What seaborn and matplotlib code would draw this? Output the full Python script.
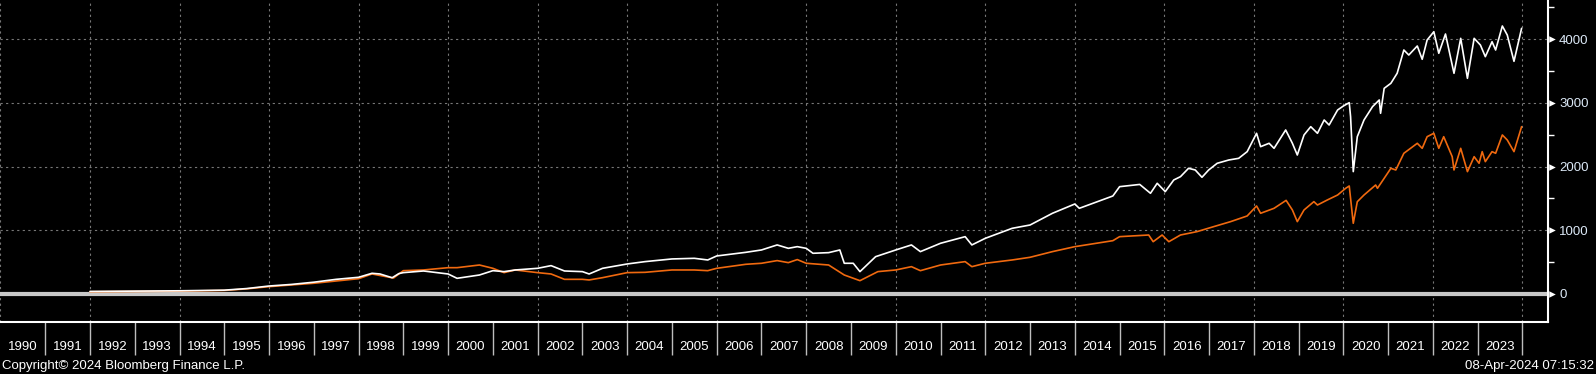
import pandas as pd
import seaborn as sns
import matplotlib.pyplot as plt
from matplotlib.transforms import blended_transform_factory

# values (decimal year, index level)
white_years = [1992.0, 1993.0, 1994.0, 1995.0, 1995.5, 1996.0, 1996.5, 1997.0, 1997.5, 1998.0,
               1998.3, 1998.48, 1998.75, 1998.9, 1999.0, 1999.45, 2000.0, 2000.2, 2000.7, 2001.0,
               2001.25, 2001.5, 2002.0, 2002.3, 2002.6, 2003.0, 2003.15, 2003.45, 2004.0, 2004.4,
               2005.0, 2005.5, 2005.8, 2006.0, 2006.65, 2007.0, 2007.35, 2007.6, 2007.8, 2008.0,
               2008.15, 2008.5, 2008.75, 2008.85, 2009.05, 2009.2, 2009.55, 2010.0, 2010.35, 2010.55,
               2011.0, 2011.55, 2011.7, 2012.0, 2012.6, 2013.0, 2013.5, 2014.0, 2014.1, 2014.85,
               2015.0, 2015.45, 2015.69, 2015.84, 2016.02, 2016.21, 2016.36, 2016.54, 2016.69, 2016.84,
               2016.99, 2017.18, 2017.44, 2017.66, 2017.85, 2018.06, 2018.15, 2018.34, 2018.45, 2018.71,
               2018.86, 2018.97, 2019.12, 2019.27, 2019.42, 2019.57, 2019.68, 2019.87, 2020.0, 2020.13,
               2020.16, 2020.22, 2020.31, 2020.46, 2020.65, 2020.8, 2020.83, 2020.91, 2021.06, 2021.2,
               2021.35, 2021.46, 2021.65, 2021.76, 2021.87, 2022.02, 2022.13, 2022.28, 2022.47, 2022.62,
               2022.77, 2022.92, 2023.06, 2023.17, 2023.32, 2023.4, 2023.55, 2023.66, 2023.81, 2023.98]
white_vals = [40, 45, 50, 60, 85, 125, 150, 185, 230, 262,
              325, 314, 255, 320, 335, 361, 314, 246, 298, 366,
              351, 377, 403, 445, 361, 351, 314, 403, 471, 508,
              550, 560, 534, 597, 654, 691, 770, 717, 743, 717,
              639, 649, 691, 482, 482, 351, 586, 691, 770, 665,
              796, 900, 770, 874, 1031, 1083, 1267, 1413, 1345, 1539,
              1685, 1720, 1581, 1738, 1607, 1790, 1842, 1973, 1947, 1832,
              1947, 2052, 2104, 2130, 2235, 2523, 2313, 2366, 2287, 2575,
              2366, 2182, 2497, 2627, 2523, 2732, 2653, 2889, 2952, 3004,
              2784, 1921, 2470, 2732, 2941, 3046, 2837, 3229, 3308, 3465,
              3831, 3752, 3894, 3685, 3988, 4118, 3779, 4082, 3465, 4014,
              3386, 4014, 3909, 3726, 3961, 3831, 4208, 4066, 3653, 4171]

orange_years = [1992.0, 1993.0, 1994.0, 1995.0, 1995.5, 1996.0, 1997.0, 1998.0, 1998.3, 1998.78,
                1999.0, 1999.45, 2000.0, 2000.2, 2000.7, 2001.0, 2001.25, 2001.5, 2002.0, 2002.3,
                2002.6, 2003.0, 2003.15, 2003.45, 2004.0, 2004.4, 2005.0, 2005.5, 2005.8, 2006.0,
                2006.65, 2007.0, 2007.35, 2007.6, 2007.8, 2008.0, 2008.5, 2008.85, 2009.2, 2009.6,
                2010.0, 2010.35, 2010.55, 2011.0, 2011.55, 2011.7, 2012.0, 2012.6, 2013.0, 2013.5,
                2014.0, 2014.85, 2015.0, 2015.65, 2015.75, 2015.95, 2016.1, 2016.36, 2016.73, 2017.1,
                2017.48, 2017.85, 2018.06, 2018.15, 2018.45, 2018.72, 2018.86, 2018.97, 2019.12, 2019.34,
                2019.42, 2019.64, 2019.87, 2020.05, 2020.13, 2020.22, 2020.31, 2020.46, 2020.72, 2020.76,
                2021.06, 2021.17, 2021.35, 2021.65, 2021.76, 2021.87, 2022.02, 2022.13, 2022.24, 2022.43,
                2022.47, 2022.62, 2022.77, 2022.92, 2023.03, 2023.1, 2023.17, 2023.32, 2023.4, 2023.55,
                2023.66, 2023.81, 2023.98]
orange_vals = [35, 40, 45, 55, 80, 115, 168, 240, 314, 250,
               366, 377, 413, 413, 455, 403, 335, 377, 335, 314,
               230, 230, 220, 256, 335, 340, 377, 377, 366, 403,
               466, 482, 524, 492, 540, 482, 455, 298, 209, 351,
               377, 429, 366, 455, 508, 429, 482, 534, 576, 665,
               743, 837, 900, 926, 821, 926, 821, 926, 979, 1057,
               1136, 1225, 1382, 1267, 1345, 1470, 1319, 1136, 1319, 1450,
               1397, 1476, 1554, 1659, 1696, 1110, 1449, 1554, 1711, 1659,
               1973, 1947, 2209, 2366, 2287, 2470, 2523, 2287, 2470, 2156,
               1947, 2287, 1921, 2156, 2052, 2235, 2078, 2235, 2209, 2497,
               2418, 2235, 2627]

year_labels = list(range(1990, 2024))
y_ticks = [0, 1000, 2000, 3000, 4000]
y_minor = [500, 1500, 2500, 3500, 4500]

sns.set_style("dark", {"axes.facecolor": "black", "figure.facecolor": "black"})
plt.rcParams["font.family"] = ["Liberation Sans", "DejaVu Sans"]

df = pd.concat([
    pd.DataFrame({"year": orange_years, "value": orange_vals, "series": "orange"}),
    pd.DataFrame({"year": white_years, "value": white_vals, "series": "white"}),
])

W, H = 1596, 374
fig = plt.figure(figsize=(W / 100, H / 100), dpi=100, facecolor="black")
ax = fig.add_axes([0, 1 - 322 / H, 1548 / W, 322 / H])
ax.set_facecolor("black")

# dotted grid
for yr in range(1990, 2025, 2):
    ax.axvline(yr, color="#777777", lw=0.8, ls=(0, (2, 3)), zorder=0)
for v in y_ticks[1:]:
    ax.axhline(v, color="#777777", lw=0.8, ls=(0, (2, 3)), zorder=0)
ax.axhline(0, color="#c8c8c8", lw=3, zorder=1)

sns.lineplot(data=df, x="year", y="value", hue="series",
             palette={"orange": "#f0690f", "white": "white"},
             hue_order=["orange", "white"], lw=1.2, legend=False,
             estimator=None, sort=False, ax=ax, zorder=3)

ax.set_xlim(1989.99, 2024.57)
ax.set_ylim(-440, 4616)
ax.grid(False)
ax.set_xlabel("")
ax.set_ylabel("")

for s in ["left", "top"]:
    ax.spines[s].set_visible(False)
for s in ["right", "bottom"]:
    ax.spines[s].set_color("white")
    ax.spines[s].set_linewidth(1.5)
    ax.spines[s].set_visible(True)

# right axis with triangle markers
ax.yaxis.tick_right()
ax.set_yticks(y_ticks)
ax.set_yticks(y_minor, minor=True)
ax.set_yticklabels([str(v) for v in y_ticks])
ax.tick_params(axis="y", which="major", length=0, pad=8, labelsize=9.5, labelcolor="#dce9f7")
ax.tick_params(axis="y", which="minor", length=4, width=1, color="white", direction="out", right=True, left=False)
tri = blended_transform_factory(ax.transAxes, ax.transData)
ax.scatter([1.0 + 3.5 / 1548] * len(y_ticks), y_ticks, marker=">", s=22, color="white",
           transform=tri, clip_on=False, zorder=5, linewidths=0)

# year band below the axis
ax.set_xticks([])
xt = blended_transform_factory(ax.transData, ax.transAxes)
ax.vlines(range(1991, 2025), -33 / 322, 0, transform=xt, color="#bdbdbd", lw=1, clip_on=False)
for yr in year_labels:
    ax.text(yr + 0.5, -25 / 322, str(yr), transform=xt, ha="center", va="center",
            color="white", fontsize=9.5)

fig.text(2 / W, 1 - 366 / H, "Copyright\u00a9 2024 Bloomberg Finance L.P.", color="white",
         fontsize=9.5, ha="left", va="center")
fig.text(1594 / W, 1 - 366 / H, "08-Apr-2024 07:15:32", color="white",
         fontsize=9.5, ha="right", va="center")

fig.savefig("out.png", dpi=100, facecolor="black")
